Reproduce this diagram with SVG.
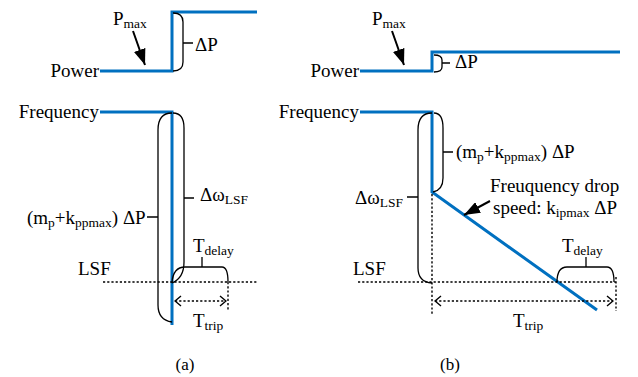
<svg xmlns="http://www.w3.org/2000/svg" width="638" height="377" viewBox="0 0 638 377" font-family="'Liberation Serif', 'Times New Roman', serif">
<defs>
<style>
text{font-family:"Liberation Serif","Times New Roman",serif;font-size:19px;fill:#000}
.sub{font-size:13.5px}
.blue{fill:none;stroke:#0070C0;stroke-width:3;stroke-linejoin:miter}
.brace{fill:none;stroke:#000;stroke-width:1.3}
.dot{fill:none;stroke:#000;stroke-width:1.4;stroke-dasharray:2.2,2}
.arr{fill:none;stroke:#000;stroke-width:2}
</style>
<marker id="fa" viewBox="0 0 16 12" refX="16" refY="6" markerWidth="16" markerHeight="12" markerUnits="userSpaceOnUse" orient="auto">
<path d="M0,0 L16,6 L0,12 Z" fill="#000"/>
</marker>
<marker id="oa" viewBox="0 0 8 12" refX="7" refY="6" markerWidth="8" markerHeight="12" markerUnits="userSpaceOnUse" orient="auto-start-reverse">
<path d="M1,1 L7,6 L1,11" fill="none" stroke="#000" stroke-width="1.4"/>
</marker>
</defs>
<rect width="638" height="377" fill="#fff"/>

<g id="panel-a">
<g id="a-power-curve"><path class="blue" d="M100,71 H172 V12 H257"/></g>
<g id="a-freq-curve"><path class="blue" d="M100,112 H172 V325"/></g>
<g id="a-labels">
<text x="99" y="77" text-anchor="end">Power</text>
<text x="99" y="118" text-anchor="end">Frequency</text>
<text x="113" y="25">P<tspan class="sub" dy="3">max</tspan></text>
<text x="195" y="51">ΔP</text>
<text x="27" y="224">(m<tspan class="sub" dy="3">p</tspan><tspan dy="-3">+k</tspan><tspan class="sub" dy="3">ppmax</tspan><tspan dy="-3">) ΔP</tspan></text>
<text x="200" y="201">Δω<tspan class="sub" dy="3">LSF</tspan></text>
<text x="78" y="275">LSF</text>
<text x="193" y="252">T<tspan class="sub" dy="3">delay</tspan></text>
<text x="193" y="327">T<tspan class="sub" dy="3">trip</tspan></text>
<text x="185" y="370" text-anchor="middle" style="font-size:17px">(a)</text>
</g>
</g>

<g id="panel-b">
<g id="b-power-curve"><path class="blue" d="M360,71 H432 V52 H620"/></g>
<g id="b-freq-curve"><path class="blue" d="M360,112 H432 V192 L597,310"/></g>
<g id="b-labels">
<text x="359" y="77" text-anchor="end">Power</text>
<text x="359" y="118" text-anchor="end">Frequency</text>
<text x="372" y="25">P<tspan class="sub" dy="3">max</tspan></text>
<text x="455" y="68">ΔP</text>
<text x="456" y="158">(m<tspan class="sub" dy="3">p</tspan><tspan dy="-3">+k</tspan><tspan class="sub" dy="3">ppmax</tspan><tspan dy="-3">) ΔP</tspan></text>
<text x="403" y="204" text-anchor="end">Δω<tspan class="sub" dy="3">LSF</tspan></text>
<text x="353" y="275">LSF</text>
<text x="562" y="252">T<tspan class="sub" dy="3">delay</tspan></text>
<text x="513" y="327">T<tspan class="sub" dy="3">trip</tspan></text>
<text x="490" y="192">Freuquency drop</text>
<text x="493" y="214">speed: k<tspan class="sub" dy="3">ipmax</tspan><tspan dy="-3"> ΔP</tspan></text>
<text x="450" y="370" text-anchor="middle" style="font-size:17px">(b)</text>
</g>
</g>

<g id="connectors">
<path class="brace" d="M173,13 Q183,13 183,22 L183,62 Q183,71 173,71 M183,43 H193"/>
<path class="brace" d="M172,113 Q158,113 158,130 L158,305 Q158,320 172,322 M147,217 H158"/>
<path class="brace" d="M173,113 Q184,113 184,128 L184,262 Q184,278 172,283 M184,198 H194"/>
<path class="brace" d="M172,283 Q173,267 185,267 L222,267 Q228,267 228,282 M202,267 V257"/>
<path class="dot" d="M103,282 H257 M228,282 V311"/>
<path class="dot" d="M175,301 H226" marker-start="url(#oa)" marker-end="url(#oa)"/>
<path class="arr" d="M133,31 L145,65" marker-end="url(#fa)"/>
<path class="brace" d="M434,55 Q442,55 442,60 L442,67 Q442,72 434,72 M442,63 H450"/>
<path class="brace" d="M434,113 Q443,113 443,128 L443,178 Q443,190 433,192 M443,152 H453"/>
<path class="brace" d="M432,113 Q418,113 418,130 L418,268 Q418,282 432,283 M407,197 H418"/>
<path class="brace" d="M557,282 Q557,267 567,267 L607,267 Q614,267 614,282 M586,267 V257"/>
<path class="dot" d="M358,282 H617 M616,277 V311 M432,194 V315"/>
<path class="dot" d="M435,301 H613" marker-start="url(#oa)" marker-end="url(#oa)"/>
<path class="arr" d="M392,31 L404,65" marker-end="url(#fa)"/>
<path class="arr" d="M490,201 L464,215" marker-end="url(#fa)"/>
</g>
</svg>
